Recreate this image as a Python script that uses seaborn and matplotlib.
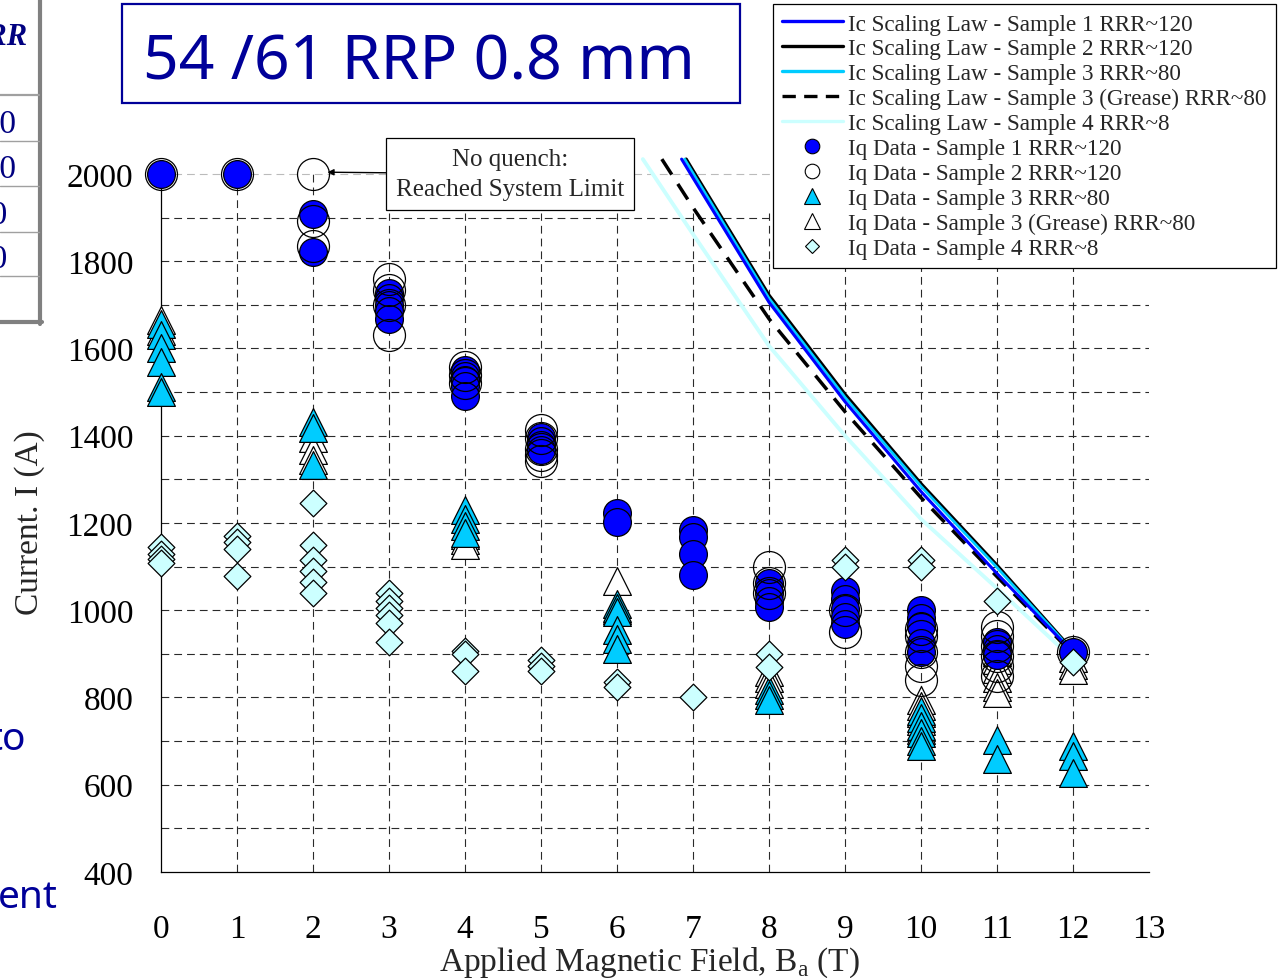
import matplotlib
matplotlib.use("Agg")
import matplotlib.pyplot as plt
import seaborn as sns
from matplotlib.lines import Line2D
from matplotlib.patches import Rectangle

# ---------------- data ----------------
s1_B = [0, 1, 2, 2, 3, 3, 3, 3, 3, 4, 4, 4, 4, 4, 5, 5, 5, 5, 6, 6, 7, 7, 7, 7,
        8, 8, 8, 8, 9, 9, 9, 9, 9, 10, 10, 10, 10, 10, 11, 11, 11, 12]
s1_I = [2000, 2000, 1908, 1821, 1728, 1715, 1700, 1685, 1668, 1550, 1538, 1527, 1515, 1492,
        1397, 1388, 1378, 1368, 1222, 1203, 1185, 1168, 1128, 1080,
        1062, 1040, 1022, 1008, 1045, 1025, 1003, 985, 968, 1000, 982, 965, 925, 905,
        928, 912, 898, 905]

s2_B = [0, 1, 2, 2, 2, 3, 3, 3, 3, 4, 4, 4, 5, 5, 5, 5, 5, 8, 8, 8, 9, 9,
        10, 10, 10, 10, 10, 11, 11, 11, 11, 11, 11, 12]
s2_I = [2000, 2000, 2000, 1893, 1835, 1760, 1735, 1700, 1630, 1558, 1540, 1520,
        1412, 1395, 1370, 1355, 1342, 1098, 1062, 1040, 1000, 950,
        958, 940, 905, 872, 840, 962, 940, 918, 895, 872, 850, 905]

s3_B = [0, 0, 0, 0, 0, 0, 2, 2, 2, 4, 4, 4, 4, 6, 6, 6, 6, 6, 6, 8, 8, 8,
        10, 10, 10, 10, 10, 10, 11, 11, 12, 12, 12]
s3_I = [1655, 1630, 1600, 1570, 1512, 1500, 1432, 1418, 1332, 1230, 1208, 1192, 1178,
        1015, 1005, 995, 955, 935, 912, 818, 806, 794,
        770, 752, 735, 718, 700, 688, 703, 660, 688, 665, 628]

s3g_B = [0, 0, 2, 2, 2, 4, 4, 4, 6, 6, 8, 8, 8, 10, 10, 10, 10, 10,
         11, 11, 11, 11, 11, 11, 12, 12, 12]
s3g_I = [1665, 1640, 1395, 1368, 1345, 1172, 1160, 1150, 1068, 1000, 858, 845, 832,
         795, 780, 765, 745, 725, 905, 885, 865, 845, 825, 810, 890, 875, 862]

s4_B = [0, 0, 0, 0, 1, 1, 1, 1, 2, 2, 2, 2, 2, 2, 3, 3, 3, 3, 3, 3, 4, 4, 4,
        5, 5, 5, 6, 6, 7, 8, 8, 9, 9, 10, 10, 11, 12]
s4_I = [1145, 1130, 1118, 1108, 1171, 1156, 1140, 1079, 1246, 1150, 1115, 1090, 1065, 1040,
        1040, 1022, 1005, 988, 970, 927, 907, 900, 861, 885, 873, 860, 835, 825, 800,
        900, 870, 1114, 1099, 1114, 1099, 1021, 881]

law1_B = [6.85, 7.0, 8.0, 9.0, 10.0, 11.0, 12.0]
law1_I = [2034, 1991, 1706, 1478, 1272, 1084, 903]
law2_B = [6.91, 7.0, 8.0, 9.0, 10.0, 11.0, 12.0]
law2_I = [2034, 2008, 1722, 1495, 1290, 1103, 907]
law3_B = [6.89, 7.0, 8.0, 9.0, 10.0, 11.0, 12.0]
law3_I = [2034, 2002, 1715, 1488, 1284, 1098, 905]
law3g_B = [6.59, 7.0, 8.0, 9.0, 10.0, 11.0, 12.0]
law3g_I = [2034, 1923, 1668, 1455, 1258, 1077, 900]
law4_B = [6.34, 7.0, 8.0, 9.0, 10.0, 11.0, 12.0]
law4_I = [2034, 1862, 1606, 1400, 1209, 1050, 888]

legend_labels = [
    "Ic Scaling Law - Sample 1 RRR~120",
    "Ic Scaling Law - Sample 2 RRR~120",
    "Ic Scaling Law - Sample 3 RRR~80",
    "Ic Scaling Law - Sample 3 (Grease) RRR~80",
    "Ic Scaling Law - Sample 4 RRR~8",
    "Iq Data - Sample 1 RRR~120",
    "Iq Data - Sample 2 RRR~120",
    "Iq Data - Sample 3 RRR~80",
    "Iq Data - Sample 3 (Grease) RRR~80",
    "Iq Data - Sample 4 RRR~8",
]
x_ticks = list(range(0, 14))
y_ticks = list(range(400, 2001, 200))
table_values = ["120", "120", "80", "80"]

# ---------------- styling ----------------
sns.set_style("white")
plt.rcParams["font.family"] = ["Liberation Serif", "DejaVu Sans"]
plt.rcParams["mathtext.fontset"] = "custom"
plt.rcParams["mathtext.rm"] = "Liberation Serif"

BLUE = "#0000FF"
CYAN = "#00CCFF"
LIGHT = "#CCFFFF"
NAVY = "#000099"

W, H = 1279, 979
fig = plt.figure(figsize=(W / 100, H / 100), dpi=100)
ax = fig.add_axes([161 / W, 1 - 873 / H, 988 / W, (873 - 157.5) / H])
ax.set_xlim(0, 13)
ax.set_ylim(400, 2040)

# grid
grid_ls = (0, (7, 4.5))
for yv in range(500, 2000, 100):
    ax.axhline(yv, color="#2a2a2a", lw=0.8, ls=grid_ls, zorder=1)
ax.axhline(2000, color="#BBBBBB", lw=0.8, ls=grid_ls, zorder=1)
ax.vlines([1, 2], 400, 2000, colors="#2a2a2a", lw=0.8, linestyles=[grid_ls], zorder=1)
ax.vlines(list(range(3, 13)), 400, 1910, colors="#2a2a2a", lw=0.8, linestyles=[grid_ls], zorder=1)

# scaling-law curves
line_kw = dict(ax=ax, sort=False, estimator=None, legend=False, zorder=2)
sns.lineplot(x=law4_B, y=law4_I, color=LIGHT, lw=2.8, **line_kw)
sns.lineplot(x=law3g_B, y=law3g_I, color="black", lw=2.5, **line_kw)
ax.lines[-1].set_linestyle((0, (5.3, 3.2)))
sns.lineplot(x=law2_B, y=law2_I, color="black", lw=2.4, **line_kw)
sns.lineplot(x=law3_B, y=law3_I, color=CYAN, lw=2.0, **line_kw)
sns.lineplot(x=law1_B, y=law1_I, color=BLUE, lw=2.2, **line_kw)

# Iq data
sc_kw = dict(ax=ax, legend=False, edgecolor="black", linewidth=0.9, clip_on=False)
sns.scatterplot(x=s3g_B, y=s3g_I, marker="^", s=400, color="white", zorder=3, **sc_kw)
sns.scatterplot(x=s3_B, y=s3_I, marker="^", s=400, color=CYAN, zorder=3.1, **sc_kw)
sns.scatterplot(x=s1_B, y=s1_I, marker="o", s=400, color=BLUE, zorder=3.2, **sc_kw)
sns.scatterplot(x=s2_B, y=s2_I, marker="o", s=529, color=(1, 1, 1, 0), zorder=3.3, **sc_kw)
sns.scatterplot(x=s4_B, y=s4_I, marker="D", s=185, color=LIGHT, zorder=3.4, **sc_kw)

# axes look
for side in ("top", "right"):
    ax.spines[side].set_visible(False)
ax.spines["left"].set_bounds(400, 2000)
for side in ("left", "bottom"):
    ax.spines[side].set_color("black")
    ax.spines[side].set_linewidth(0.9)
    ax.spines[side].set_zorder(2.5)
ax.set_xticks(x_ticks)
ax.set_yticks(y_ticks)
ax.tick_params(axis="both", direction="out", length=8, width=0.9, color="black",
               labelsize=24, labelcolor="black")
ax.tick_params(axis="x", pad=22)
ax.tick_params(axis="y", pad=12)
ax.set_xlabel("Applied Magnetic Field, B$_\\mathrm{a}$ (T)", fontsize=24)
ax.xaxis.set_label_coords(0.494, -0.101)
ax.set_ylabel("Current. I (A)", fontsize=24)
ax.yaxis.set_label_coords((45 - 161) / 988, 0.489)

# annotation
ax.annotate("No quench:\nReached System Limit", xy=(2.19, 2004), xytext=(4.592, 2000),
            ha="center", va="center", fontsize=18, linespacing=1.5, zorder=6,
            bbox=dict(boxstyle="square,pad=0.38", fc="white", ec="black", lw=0.9),
            arrowprops=dict(arrowstyle="-|>", color="black", lw=1.0, mutation_scale=9,
                            shrinkA=0, shrinkB=0))

# legend
handles = [
    Line2D([], [], color=BLUE, lw=2.4),
    Line2D([], [], color="black", lw=2.4),
    Line2D([], [], color=CYAN, lw=2.4),
    Line2D([], [], color="black", lw=2.4, ls=(0, (4, 2.5))),
    Line2D([], [], color=LIGHT, lw=2.4),
    Line2D([], [], ls="none", marker="o", ms=10.5, mfc=BLUE, mec="black", mew=0.8),
    Line2D([], [], ls="none", marker="o", ms=10.5, mfc="white", mec="black", mew=0.8),
    Line2D([], [], ls="none", marker="^", ms=11.5, mfc=CYAN, mec="black", mew=0.8),
    Line2D([], [], ls="none", marker="^", ms=11.5, mfc="white", mec="black", mew=0.8),
    Line2D([], [], ls="none", marker="D", ms=7.5, mfc=LIGHT, mec="black", mew=0.8),
]
leg = fig.legend(handles, legend_labels, loc="upper right",
                 bbox_to_anchor=(1276 / W, 1 - 5 / H), bbox_transform=fig.transFigure,
                 fontsize=16.7, frameon=True, fancybox=False, framealpha=1,
                 edgecolor="black", borderpad=0.4, labelspacing=0.16,
                 handlelength=2.6, handletextpad=0.25, borderaxespad=0, numpoints=1)
leg.get_frame().set_linewidth(0.9)
leg.set_zorder(10)

# title box
fig.patches.append(Rectangle((122 / W, 1 - 104 / H), 618 / W, 99 / H, transform=fig.transFigure,
                             fill=False, ec=NAVY, lw=1.6, zorder=5))
fig.text(419 / W, 1 - 79 / H, "54 /61 RRP 0.8 mm", ha="center", va="baseline",
         fontsize=45, family=["Noto Sans", "DejaVu Sans"], color=NAVY)

# cut-off slide fragments at the left edge
fig.add_artist(Line2D([40.5 / W, 40.5 / W], [1, 1 - 325 / H], transform=fig.transFigure,
                      color="#808080", lw=3))
fig.add_artist(Line2D([0, 42 / W], [1 - 323 / H, 1 - 323 / H], transform=fig.transFigure,
                      color="#808080", lw=3))
for yy, lw in [(96, 1.6), (142, 1.0), (187, 1.0), (233, 1.0), (277, 1.0)]:
    fig.add_artist(Line2D([0, 39 / W], [1 - yy / H, 1 - yy / H], transform=fig.transFigure,
                          color="#A0A0A0", lw=lw))
fig.text(-3 / W, 1 - 45 / H, "RRR", ha="center", va="baseline", fontsize=22,
         fontweight="bold", fontstyle="italic", color="#000080")
for val, base in zip(table_values, [133, 178, 224, 268]):
    fig.text(-9 / W, 1 - base / H, val, ha="center", va="baseline", fontsize=24, color="#000080")
fig.text(26 / W, 1 - 750 / H, "to", ha="right", va="baseline", fontsize=28,
         family=["Noto Sans", "DejaVu Sans"], color=NAVY)
fig.text(58 / W, 1 - 908 / H, "ent", ha="right", va="baseline", fontsize=28,
         family=["Noto Sans", "DejaVu Sans"], color=NAVY)

fig.savefig("out.png", dpi=100)
